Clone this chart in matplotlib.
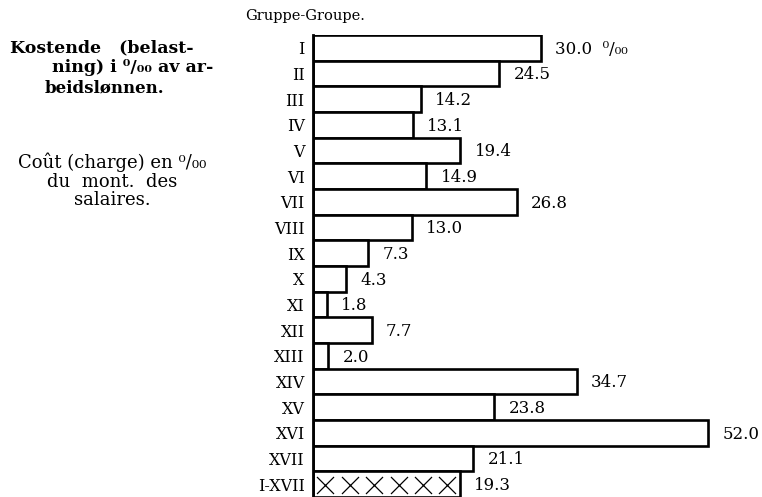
import numpy as np
import matplotlib
matplotlib.use('Agg')
import matplotlib.pyplot as plt

groups = ['I', 'II', 'III', 'IV', 'V', 'VI', 'VII', 'VIII', 'IX', 'X', 'XI',
          'XII', 'XIII', 'XIV', 'XV', 'XVI', 'XVII', 'I-XVII']
values = [30.0, 24.5, 14.2, 13.1, 19.4, 14.9, 26.8, 13.0, 7.3, 4.3, 1.8,
          7.7, 2.0, 34.7, 23.8, 52.0, 21.1, 19.3]
value_labels = ['30.0  ⁰/₀₀'] + [f'{v:.1f}' for v in values[1:]]

plt.rcParams['font.family'] = ['DejaVu Serif']

fig = plt.figure(figsize=(7.62, 4.97), dpi=100)
ax = fig.add_axes([313 / 762, 0, 1 - 313 / 762, 1 - 35 / 497])

n = len(values)
y = np.arange(n)
ax.barh(y, values, height=1.0, color='white', edgecolor='black',
        linewidth=1.9)

# crosses in the total bar
k = 6
xs = values[-1] * (np.arange(k) + 0.5) / k
ax.scatter(xs, np.full(k, y[-1] + 0.05), marker='x', s=150, color='black',
           linewidths=0.9, zorder=3)

for yi, v, lab in zip(y, values, value_labels):
    ax.text(v + 1.9, yi + 0.05, lab, va='center', ha='left', fontsize=12)

ax.set_xlim(0, (762 - 313) / 7.6)
ax.set_ylim(n - 0.5, -0.5)
ax.set_yticks(y)
ax.set_yticklabels(groups, fontsize=11.5)
ax.tick_params(axis='y', length=0, pad=6)
ax.set_xticks([])
for s in ['top', 'right', 'bottom']:
    ax.spines[s].set_visible(False)
ax.spines['left'].set_linewidth(2)

fig.text(245 / 762, 1 - 16 / 497, 'Gruppe-Groupe.', fontsize=10.5,
         va='center', ha='left')

fig.text(10 / 762, 1 - 48 / 497, 'Kostende   (belast-', fontsize=12.5,
         fontweight='bold', va='center', ha='left')
fig.text(213 / 762, 1 - 68 / 497, 'ning) i ⁰/₀₀ av ar-', fontsize=12.5,
         fontweight='bold', va='center', ha='right')
fig.text(45 / 762, 1 - 88 / 497, 'beidslønnen.', fontsize=12,
         fontweight='bold', va='center', ha='left')

fig.text(112 / 762, 1 - 162 / 497, 'Coût (charge) en ⁰/₀₀', fontsize=13,
         va='center', ha='center')
fig.text(112 / 762, 1 - 182 / 497, 'du  mont.  des', fontsize=13,
         va='center', ha='center')
fig.text(112 / 762, 1 - 200 / 497, 'salaires.', fontsize=13,
         va='center', ha='center')

fig.savefig('out.png', dpi=100, facecolor='white')
